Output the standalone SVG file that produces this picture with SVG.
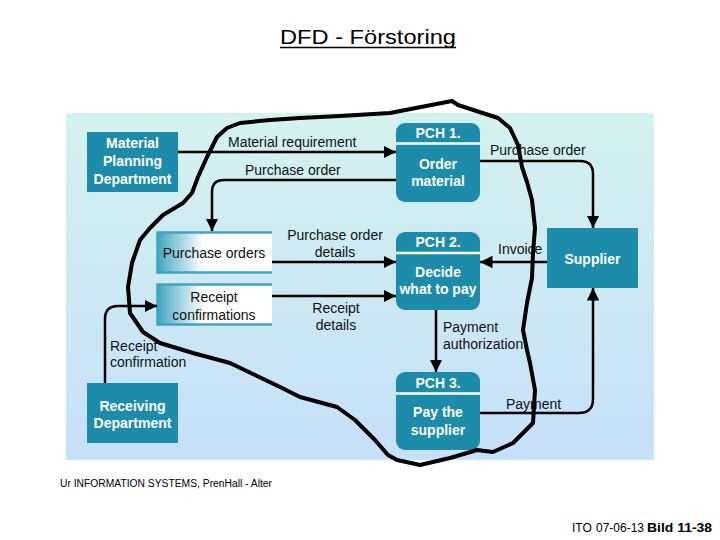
<svg xmlns="http://www.w3.org/2000/svg" width="720" height="540" viewBox="0 0 720 540">
<defs>
<linearGradient id="bg" x1="0" y1="0" x2="0" y2="1">
<stop offset="0" stop-color="#d4f2ef"/>
<stop offset="1" stop-color="#c5e0f8"/>
</linearGradient>
<linearGradient id="store" x1="0" y1="0" x2="1" y2="0">
<stop offset="0" stop-color="#3fa5c2"/>
<stop offset="0.4" stop-color="#ffffff"/>
<stop offset="1" stop-color="#ffffff"/>
</linearGradient>
<marker id="ah" viewBox="0 0 10 10" refX="10" refY="5" markerWidth="5" markerHeight="5" orient="auto" markerUnits="strokeWidth">
<path d="M0,0 L10,5 L0,10 Z" fill="#000"/>
</marker>
<style>
.box{fill:#1c8caa}
.div{stroke:#ffffff;stroke-width:2.5}
.bt{font-family:"Liberation Sans",Arial,sans-serif;font-size:14px;font-weight:bold;fill:#ffffff;text-anchor:middle}
.lb{font-family:"Liberation Sans",Arial,sans-serif;font-size:14px;fill:#111}
.mid{text-anchor:middle}
.st{fill:url(#store)}
.stb{stroke:#3ea4c0;stroke-width:2.5;fill:none}
.fl{fill:none;stroke:#000;stroke-width:2.5;marker-end:url(#ah)}
.ft{font-family:"Liberation Sans",Arial,sans-serif;font-size:12px;fill:#000}
</style>
</defs>
<rect x="0" y="0" width="720" height="540" fill="#ffffff"/>
<text x="368" y="44" font-family="Liberation Sans,Arial,sans-serif" font-size="20" text-anchor="middle" textLength="176" lengthAdjust="spacingAndGlyphs" fill="#000">DFD - Förstoring</text>
<line x1="280" y1="47.5" x2="456" y2="47.5" stroke="#000" stroke-width="1.3"/>
<rect x="66" y="113" width="588" height="347" fill="url(#bg)"/>

<g id="material-planning">
<rect class="box" x="87" y="132" width="91" height="60"/>
<text class="bt" x="132.5" y="148">Material</text>
<text class="bt" x="132.5" y="166">Planning</text>
<text class="bt" x="132.5" y="184">Department</text>
</g>
<g id="receiving">
<rect class="box" x="87" y="383" width="91" height="60"/>
<text class="bt" x="132.5" y="411">Receiving</text>
<text class="bt" x="132.5" y="428">Department</text>
</g>
<g id="supplier">
<rect class="box" x="547" y="228" width="91" height="60"/>
<text class="bt" x="592.5" y="264">Supplier</text>
</g>
<g id="pch1">
<rect class="box" x="396" y="123" width="84" height="79" rx="9"/>
<line class="div" x1="396" y1="143.5" x2="480" y2="143.5"/>
<text class="bt" x="438" y="138">PCH 1.</text>
<text class="bt" x="438" y="169">Order</text>
<text class="bt" x="438" y="186">material</text>
</g>
<g id="pch2">
<rect class="box" x="396" y="232" width="84" height="78" rx="9"/>
<line class="div" x1="396" y1="253" x2="480" y2="253"/>
<text class="bt" x="438" y="247">PCH 2.</text>
<text class="bt" x="438" y="277">Decide</text>
<text class="bt" x="438" y="294">what to pay</text>
</g>
<g id="pch3">
<rect class="box" x="396" y="372" width="84" height="78" rx="9"/>
<line class="div" x1="396" y1="393.5" x2="480" y2="393.5"/>
<text class="bt" x="438" y="388">PCH 3.</text>
<text class="bt" x="438" y="417">Pay the</text>
<text class="bt" x="438" y="435">supplier</text>
</g>
<g id="store-purchase-orders">
<rect class="st" x="157" y="232" width="115" height="41"/>
<path class="stb" d="M272,232.5 H157.5 V272.5 H272"/>
<text class="lb mid" x="214" y="258">Purchase orders</text>
</g>
<g id="store-receipt-confirmations">
<rect class="st" x="157" y="284" width="115" height="41"/>
<path class="stb" d="M272,284.5 H157.5 V324.5 H272"/>
<text class="lb mid" x="214" y="302">Receipt</text>
<text class="lb mid" x="214" y="320">confirmations</text>
</g>

<g id="connectors">
<path class="fl" d="M178,152 H396"/>
<text class="lb" x="228" y="147">Material requirement</text>
<path class="fl" d="M396,180 H224 Q212,180 212,192 V231"/>
<text class="lb" x="245" y="175">Purchase order</text>
<path class="fl" d="M480,161 H580 Q593,161 593,174 V228"/>
<text class="lb" x="490" y="155">Purchase order</text>
<path class="fl" d="M272,262 H396"/>
<text class="lb mid" x="335" y="240">Purchase order</text>
<text class="lb mid" x="335" y="257">details</text>
<path class="fl" d="M272,296 H396"/>
<text class="lb mid" x="336" y="313">Receipt</text>
<text class="lb mid" x="336" y="330">details</text>
<path class="fl" d="M547,262 H480"/>
<text class="lb" x="498" y="254">Invoice</text>
<path class="fl" d="M436,310 V372"/>
<text class="lb" x="443" y="332">Payment</text>
<text class="lb" x="443" y="349">authorization</text>
<path class="fl" d="M480,413 H579 Q593,413 593,399 V288"/>
<text class="lb" x="506" y="409">Payment</text>
<path class="fl" d="M105,383 V319 Q105,306 118,306 H157"/>
<text class="lb" x="110" y="351">Receipt</text>
<text class="lb" x="110" y="367">confirmation</text>
</g>

<path id="boundary" d="M240,123 L270,120 L300,118 L340,116 L390,113 L452,101 L458,105 L498,118 L510,128 L518,145 L522,167 L527,182 L532,200 L535,228 L533,253 L532,278 L527,303 L523,330 L527,350 L530,363 L535,390 L533,423 L513,443 L493,452 L477,450 L450,458 L420,465 L397,460 L388,455 L375,440 L355,420 L337,407 L300,397 L280,387 L255,375 L230,363 L193,353 L160,343 L143,332 L130,313 L128,287 L132,263 L140,240 L150,228 L163,215 L183,203 L192,193 L198,177 L207,157 L217,137 L227,128 Z" fill="none" stroke="#000" stroke-width="4" stroke-linejoin="round"/>

<text x="60" y="487" font-family="Liberation Sans,Arial,sans-serif" font-size="10" textLength="212" lengthAdjust="spacingAndGlyphs" fill="#000">Ur INFORMATION SYSTEMS, PrenHall - Alter</text>
<text class="ft" x="572" y="532">ITO</text>
<text class="ft" x="596" y="532">07-06-13</text>
<text class="ft" x="647" y="532" font-weight="bold" textLength="65" lengthAdjust="spacingAndGlyphs">Bild 11-38</text>
</svg>
